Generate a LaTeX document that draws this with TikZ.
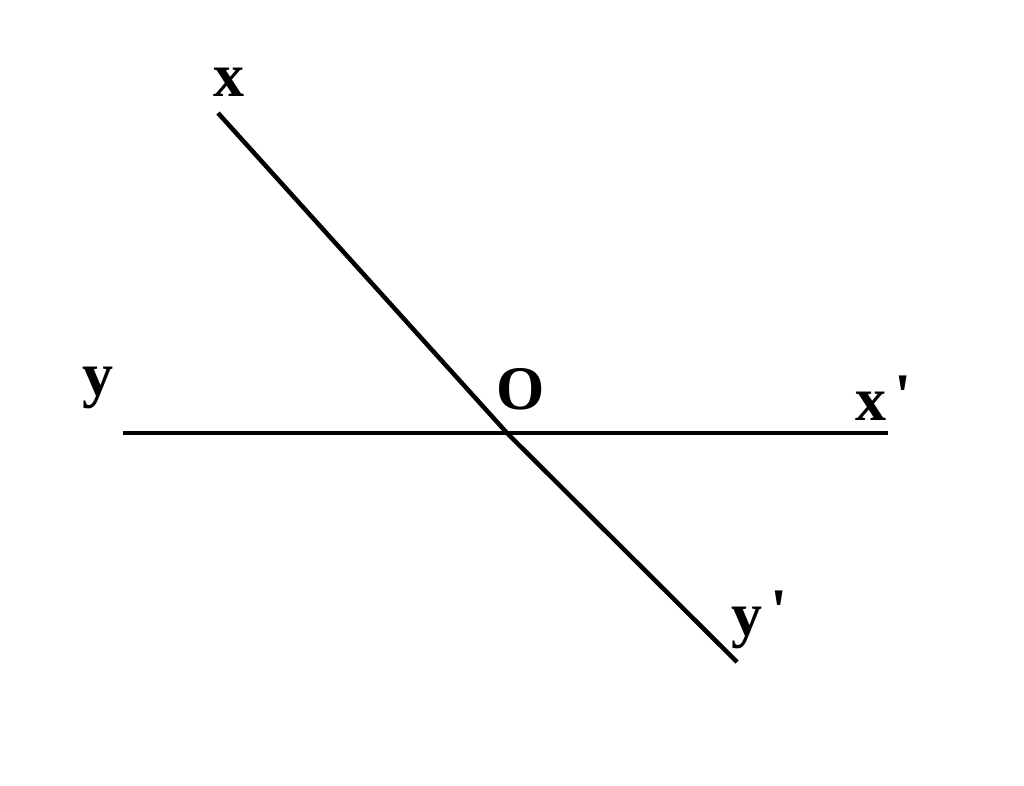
\documentclass[tikz,border=0pt]{standalone}
\usepackage{fontspec}
\setmainfont{Liberation Serif}
\begin{document}
\begin{tikzpicture}[yscale=-1
,pstyle1/.style={color=black,line width=4.5pt}
,lstyle/.style={anchor=base,inner sep=0pt,color=black,font=\fontsize{62pt}{70pt}\selectfont\bfseries}
]
\useasboundingbox (0pt,0pt) rectangle (1024pt,786pt);
\coordinate (xend) at (218pt,113pt);
\coordinate (O) at (507pt,433pt);
\coordinate (yend) at (737pt,662pt);
\coordinate (yleft) at (123pt,433pt);
\coordinate (xright) at (888pt,433pt);
\draw[pstyle1] (yleft) -- (xright);
\draw[pstyle1] (xend) -- (O) -- (yend);
\node (lx) at (229pt,97pt)[lstyle]{x};
\node (ly) at (98pt,395pt)[lstyle]{y};
\node (lO) at (521pt,409pt)[lstyle]{O};
\node (lxp) at (884pt,420pt)[lstyle]{x\kern8pt\raisebox{4pt}{\textquotesingle}};
\node (lyp) at (760pt,635pt)[lstyle]{y\kern8pt\raisebox{4pt}{\textquotesingle}};
\end{tikzpicture}
\end{document}
